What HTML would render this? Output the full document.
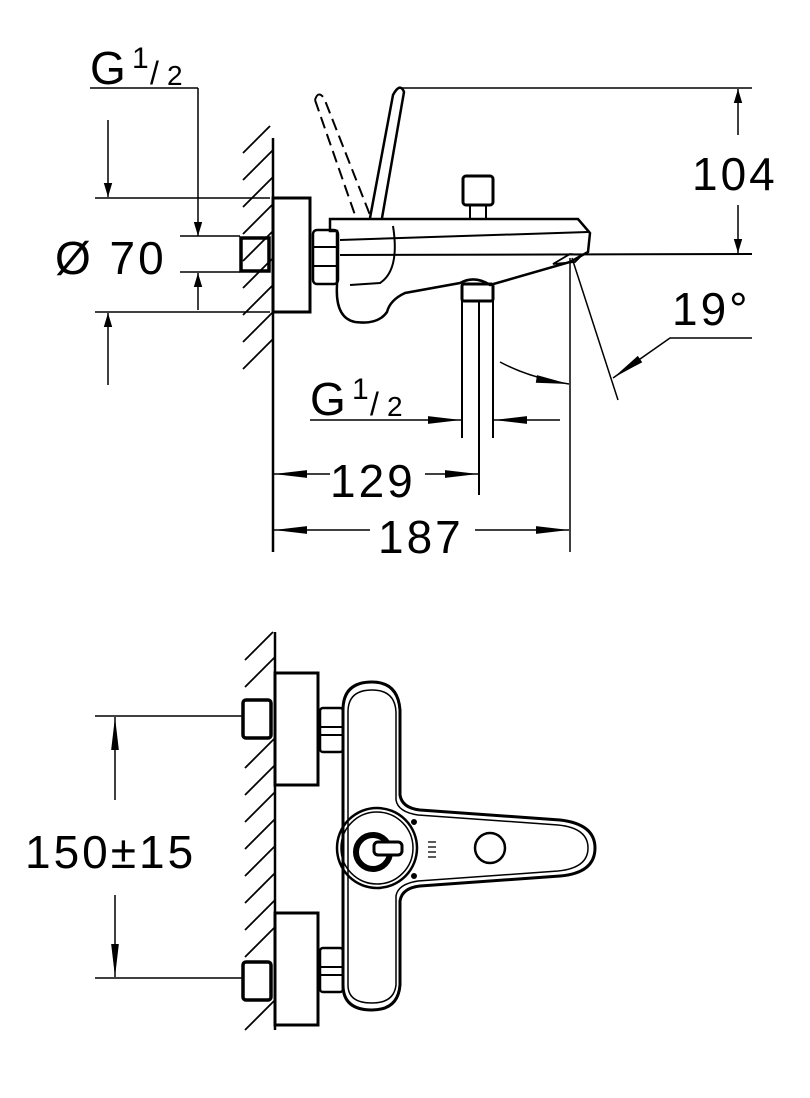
<!DOCTYPE html>
<html><head><meta charset="utf-8"><style>
html,body{margin:0;padding:0;background:#fff;}
svg{display:block;}
text{font-family:"Liberation Sans",Arial,sans-serif;fill:#000;}
</style></head><body>
<svg width="810" height="1098" viewBox="0 0 810 1098" xmlns="http://www.w3.org/2000/svg">
<defs>
<marker id="a" viewBox="0 0 10 10" refX="10" refY="5" markerWidth="14" markerHeight="14" markerUnits="userSpaceOnUse" orient="auto-start-reverse">
<path d="M0,2 L10,5 L0,8 z" fill="#000"/></marker>
<marker id="b" viewBox="0 0 30 10" refX="30" refY="5" markerWidth="34" markerHeight="11" markerUnits="userSpaceOnUse" orient="auto-start-reverse">
<path d="M0,1.5 L30,5 L0,8.5 z" fill="#000"/></marker>
</defs>
<g stroke="#000" fill="none" stroke-width="2">
<!-- TOP VIEW -->
<line x1="273" y1="138" x2="273" y2="552" stroke-width="2.5"/>
<g stroke-width="1.8">
<line x1="243" y1="153" x2="270" y2="126"/><line x1="243" y1="180" x2="273" y2="150"/>
<line x1="243" y1="207" x2="273" y2="177"/><line x1="243" y1="234" x2="273" y2="204"/>
<line x1="243" y1="261" x2="273" y2="231"/><line x1="243" y1="288" x2="273" y2="258"/>
<line x1="243" y1="315" x2="273" y2="285"/><line x1="243" y1="342" x2="273" y2="312"/>
<line x1="243" y1="369" x2="273" y2="339"/>
</g>
<rect x="273" y="198" width="37" height="114" stroke-width="3"/>
<rect x="241" y="238" width="28" height="33" stroke-width="3.5"/>
<rect x="313" y="230" width="25" height="54" rx="4" stroke-width="2.5"/>
<line x1="313" y1="247" x2="338" y2="247"/><line x1="313" y1="266" x2="338" y2="266"/>
<path d="M330,219 L578,219 L590,233 L588,252 L570,262 L490,285 Q475,275 460,283 L405,293 Q390,300 387,312 Q378,325 355,322 Q335,318 337,285 L337,231 L330,231 Z" stroke-width="2.5"/>
<line x1="340" y1="240" x2="588" y2="232"/>
<line x1="340" y1="255" x2="752" y2="254"/>
<path d="M393,226 Q400,270 380,283 L350,285" />
<path d="M553,264 L570,254 L582,255 L575,262 Z" stroke-width="1.8"/>
<path d="M370,218 L393,95 Q400,82 404,92 L382,218" stroke-width="2.5"/>
<g stroke-dasharray="12,6" stroke-width="2">
<path d="M315,100 Q318,90 324,98 L370,215"/>
<path d="M315,100 L355,215"/>
</g>
<rect x="463" y="176" width="30" height="29" rx="3" stroke-width="3"/>
<rect x="470" y="205" width="16" height="14"/>
<rect x="462" y="284" width="31" height="17" rx="2" stroke-width="3"/>
<line x1="462" y1="300" x2="462" y2="438"/><line x1="479" y1="300" x2="479" y2="495"/><line x1="493" y1="300" x2="493" y2="438"/>
<line x1="400" y1="88" x2="752" y2="88" stroke-width="1.5"/>
<line x1="738" y1="135" x2="738" y2="89" stroke-width="1.5" marker-end="url(#a)"/>
<line x1="738" y1="205" x2="738" y2="253" stroke-width="1.5" marker-end="url(#a)"/>
<line x1="90" y1="88" x2="198" y2="88" stroke-width="1.5"/>
<line x1="198" y1="88" x2="198" y2="236" stroke-width="1.5" marker-end="url(#a)"/>
<line x1="198" y1="310" x2="198" y2="273" stroke-width="1.5" marker-end="url(#a)"/>
<line x1="95" y1="198" x2="270" y2="198" stroke-width="1.5"/>
<line x1="95" y1="312" x2="270" y2="312" stroke-width="1.5"/>
<line x1="180" y1="236" x2="240" y2="236" stroke-width="1.5"/>
<line x1="180" y1="272" x2="240" y2="272" stroke-width="1.5"/>
<line x1="108" y1="120" x2="108" y2="197" stroke-width="1.5" marker-end="url(#a)"/>
<line x1="108" y1="385" x2="108" y2="313" stroke-width="1.5" marker-end="url(#a)"/>
<line x1="310" y1="420" x2="461" y2="420" stroke-width="1.5" marker-end="url(#b)"/>
<line x1="560" y1="420" x2="494" y2="420" stroke-width="1.5" marker-end="url(#b)"/>
<line x1="570" y1="258" x2="570" y2="552" stroke-width="1.5"/>
<line x1="572" y1="258" x2="618" y2="400" stroke-width="1.5"/>
<path d="M500,362 Q530,378 569,384" stroke-width="1.5" marker-end="url(#b)"/>
<polyline points="752,338 670,338 613,378" stroke-width="1.5" marker-end="url(#b)"/>
<line x1="330" y1="474" x2="274" y2="474" stroke-width="1.5" marker-end="url(#b)"/>
<line x1="425" y1="474" x2="478" y2="474" stroke-width="1.5" marker-end="url(#b)"/>
<line x1="370" y1="530" x2="274" y2="530" stroke-width="1.5" marker-end="url(#b)"/>
<line x1="475" y1="530" x2="569" y2="530" stroke-width="1.5" marker-end="url(#b)"/>

<!-- BOTTOM VIEW -->
<line x1="275" y1="632" x2="275" y2="1030" stroke-width="2.5"/>
<g stroke-width="1.8">
<line x1="245" y1="660" x2="273" y2="632"/><line x1="245" y1="687" x2="275" y2="657"/>
<line x1="245" y1="768" x2="275" y2="738"/><line x1="245" y1="795" x2="275" y2="765"/>
<line x1="245" y1="822" x2="275" y2="792"/><line x1="245" y1="849" x2="275" y2="819"/>
<line x1="245" y1="876" x2="275" y2="846"/><line x1="245" y1="903" x2="275" y2="873"/>
<line x1="245" y1="930" x2="275" y2="900"/><line x1="245" y1="957" x2="275" y2="927"/>
<line x1="245" y1="1030" x2="275" y2="1000"/>
</g>
<rect x="275" y="673" width="43" height="112" stroke-width="3"/>
<rect x="275" y="913" width="43" height="112" stroke-width="3"/>
<rect x="243" y="700" width="28" height="38" rx="3" stroke-width="3.5"/>
<rect x="243" y="962" width="28" height="38" rx="3" stroke-width="3.5"/>
<rect x="320" y="708" width="23" height="44" rx="3" stroke-width="2.5"/>
<line x1="320" y1="727" x2="343" y2="727"/><line x1="320" y1="735" x2="343" y2="735"/>
<rect x="320" y="948" width="23" height="44" rx="3" stroke-width="2.5"/>
<line x1="320" y1="967" x2="343" y2="967"/><line x1="320" y1="975" x2="343" y2="975"/>
<path d="M343,710 Q343,682 372,682 Q398,682 400,710 L400,795 Q402,808 420,810 L560,820 Q595,824 595,848 Q595,873 560,876 L420,886 Q402,888 400,901 L400,985 Q398,1010 372,1010 Q343,1010 343,985 Z" stroke-width="3"/>
<path d="M348,712 Q348,690 372,690 Q395,690 396,712 L396,800 Q398,812 418,815 L558,825 Q588,828 588,848 Q588,868 558,871 L418,881 Q398,884 396,896 L396,985 Q394,1003 372,1003 Q348,1003 348,985 Z" stroke-width="1.5"/>
<circle cx="377" cy="848" r="40" stroke-width="2.5"/>
<circle cx="377" cy="848" r="36" stroke-width="1.5"/>
<circle cx="373" cy="852" r="17" stroke-width="6"/>
<rect x="374" y="842" width="28" height="13" rx="4" fill="#fff" stroke-width="3"/>
<circle cx="490" cy="848" r="15" stroke-width="2.5"/>
<circle cx="414" cy="822" r="2" fill="#000"/><circle cx="414" cy="876" r="2" fill="#000"/>
<g stroke-width="1.3"><line x1="428" y1="842" x2="436" y2="842"/><line x1="428" y1="847" x2="436" y2="847"/><line x1="428" y1="852" x2="436" y2="852"/><line x1="428" y1="857" x2="436" y2="857"/></g>
<line x1="95" y1="716" x2="243" y2="716" stroke-width="1.5"/>
<line x1="95" y1="978" x2="243" y2="978" stroke-width="1.5"/>
<line x1="115" y1="800" x2="115" y2="717" stroke-width="1.5" marker-end="url(#b)"/>
<line x1="115" y1="895" x2="115" y2="977" stroke-width="1.5" marker-end="url(#b)"/>
</g>
<g font-size="46" letter-spacing="3">
<text x="90" y="84" letter-spacing="0">G</text>
<text x="132" y="68" font-size="30" letter-spacing="0">1</text>
<text x="150" y="84" font-size="32" letter-spacing="0">/</text>
<text x="167" y="85" font-size="28" letter-spacing="0">2</text>
<text x="55" y="274">Ø 70</text>
<text x="692" y="190">104</text>
<text x="672" y="325">19°</text>
<text x="310" y="415" letter-spacing="0">G</text>
<text x="352" y="399" font-size="30" letter-spacing="0">1</text>
<text x="370" y="415" font-size="32" letter-spacing="0">/</text>
<text x="387" y="416" font-size="28" letter-spacing="0">2</text>
<text x="330" y="497">129</text>
<text x="378" y="553">187</text>
<text x="25" y="868">150±15</text>
</g>
</svg>
</body></html>
